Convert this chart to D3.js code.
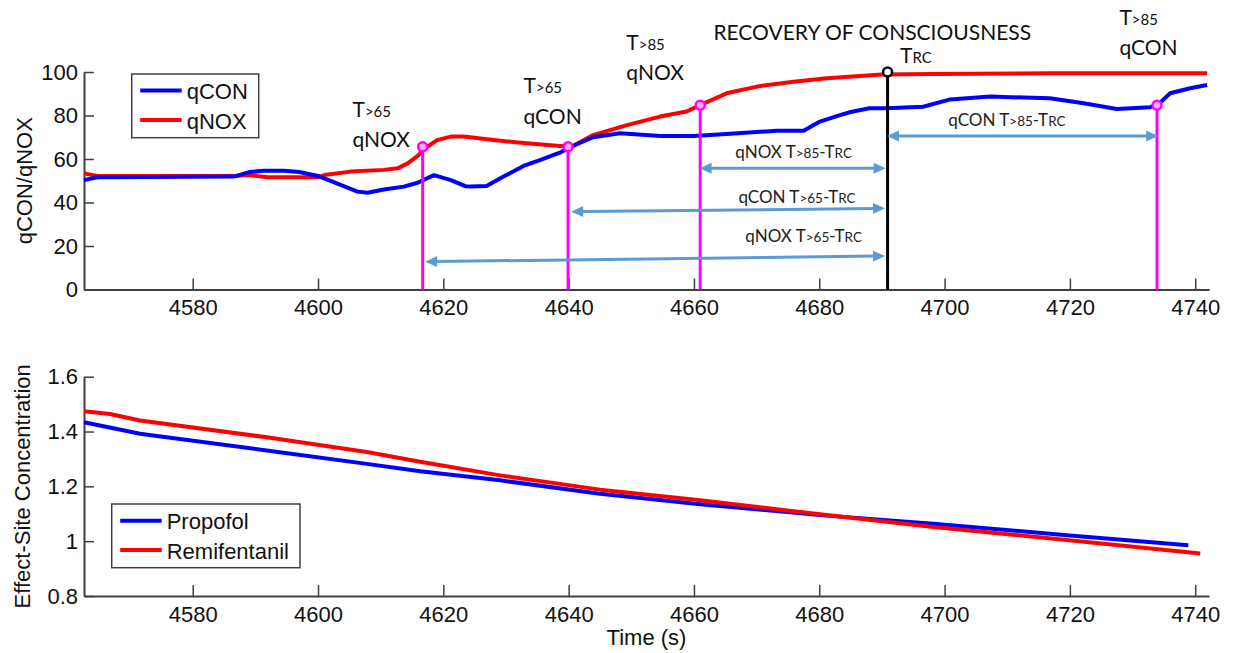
<!DOCTYPE html>
<html><head><meta charset="utf-8">
<script src="https://cdn.jsdelivr.net/npm/d3@7"></script>
<style>body{margin:0;background:#fff;} svg{display:block;}</style>
</head><body>
<svg id="c" width="1237" height="653"></svg>
<script>
// ---------- data ----------
const xTicks = [4580, 4600, 4620, 4640, 4660, 4680, 4700, 4720, 4740];
const qTicks = [0, 20, 40, 60, 80, 100];
const cTicks = [0.8, 1, 1.2, 1.4, 1.6];

const qconT = [4562.65,4564.8,4586.6,4589,4591.4,4594.6,4597,4600,4603,4606.3,4607.9,4610.5,4613.7,4615.9,4618.5,4621.2,4623.5,4624.3,4626.9,4629.6,4632.8,4635.4,4638.6,4640.2,4643.9,4648.2,4654.6,4659.9,4665.2,4673.2,4677.5,4680.1,4683.3,4685,4688,4690.7,4696.6,4700.9,4707.3,4716.8,4722.2,4727.5,4732.8,4734.1,4736,4739.2,4741.9];
const qconV = [50.3,51.6,51.9,54.0,54.6,54.6,54.0,52.2,48.8,45.0,44.5,46.0,47.3,49.1,52.6,50.3,47.5,47.3,47.6,51.9,56.8,59.5,62.9,65.4,70.0,71.8,70.6,70.6,71.5,73.0,73.0,77.2,80.2,81.6,83.3,83.3,84.0,87.4,88.7,87.9,85.6,83.0,83.8,85.1,90.2,92.5,94.0];

const qnoxT = [4562.65,4564.8,4586.6,4589,4592,4600,4601,4605.2,4610.5,4612.7,4614.3,4615.9,4616.9,4619,4621.2,4623.3,4628,4633.3,4638.6,4640.7,4643.9,4649.3,4654.6,4658.8,4661,4665.2,4670.6,4675.9,4681.2,4686.5,4690,4697.9,4716.8,4741.9];
const qnoxV = [53.4,52.2,52.2,52.6,51.6,51.6,52.6,54.2,55.0,55.7,58.0,61.4,64.5,68.7,70.3,70.3,68.7,67.2,66.0,66.0,71.0,75.6,79.5,81.8,84.8,90.2,93.6,95.5,97.1,98.2,98.8,99.1,99.4,99.4];

const propT = [4562.65,4571.6,4591.8,4607.8,4616.3,4629.05,4645.0,4661.0,4680.1,4698.2,4719.5,4738.9];
const propV = [1.434,1.392,1.331,1.282,1.255,1.222,1.173,1.135,1.095,1.064,1.022,0.985];
const remiT = [4562.65,4566.8,4571.6,4591.8,4607.8,4616.3,4629.05,4645.0,4661.0,4680.1,4698.2,4719.5,4740.8];
const remiV = [1.474,1.464,1.44,1.379,1.325,1.29,1.24,1.188,1.149,1.098,1.052,1.004,0.955];

// threshold events (magenta) and recovery of consciousness (black)
const eventT = [4616.7, 4639.9, 4661.0, 4733.9];
const eventV = [65.6, 65.6, 84.7, 84.7];
const trcT = 4690.9, trcV = 100;

// arrows: start/end time and value, label
const arrowT1 = [4660.9, 4640.4, 4617.1, 4690.8];
const arrowV1 = [55.7, 35.8, 12.8, 70.6];
const arrowT2 = [4690.6, 4690.5, 4690.5, 4734.1];
const arrowV2 = [55.7, 37.3, 15.4, 70.6];
const arrowLab = [["qNOX T",">85","-T","RC"],["qCON T",">65","-T","RC"],["qNOX T",">65","-T","RC"],["qCON T",">85","-T","RC"]];
const arrowLabT = [4666.6, 4667.1, 4668.2, 4700.6];
const arrowLabV = [60.3, 39.9, 22.0, 75.3];

// event labels: [big, small] line1, line2
const evLab1 = [">65", ">65", ">85", ">85"];
const evLab2 = ["qNOX", "qCON", "qNOX", "qCON"];
const evLabT = [4605.5, 4632.8, 4649.2, 4727.9];
const evLabV1 = [79.2, 90.3, 110.1, 121.6];
const evLabV2 = [65.4, 76.1, 96.3, 107.8];

// ---------- layout ----------
const svg = d3.select("#c");
const X0 = 84, X1 = 1209;
const x = d3.scaleLinear().domain([4562.65, 4742.2]).range([X0, X1]);
const yq = d3.scaleLinear().domain([0, 100]).range([289.5, 72]);
const yc = d3.scaleLinear().domain([0.8, 1.6]).range([596, 376.7]);
const AX = "Liberation Sans, Arial, sans-serif";
const AN = "Lato, sans-serif";

function styleAxis(g) {
  g.select(".domain").attr("stroke", "#404040").attr("stroke-width", 2);
  g.selectAll(".tick line").attr("stroke", "#404040").attr("stroke-width", 1.5);
  g.selectAll(".tick text").attr("fill", "#111").style("font-family", AX).style("font-size", "22px");
}

// axes top
svg.append("g").attr("transform", `translate(0,${yq(0)})`)
  .call(d3.axisBottom(x).tickValues(xTicks).tickSizeInner(-11).tickSizeOuter(0).tickPadding(10).tickFormat(d3.format("d")))
  .call(styleAxis);
svg.append("g").attr("transform", `translate(${X0},0)`)
  .call(d3.axisLeft(yq).tickValues(qTicks).tickSizeInner(-10).tickSizeOuter(0).tickPadding(6).tickFormat(d3.format("d")))
  .call(styleAxis);
// axes bottom
svg.append("g").attr("transform", `translate(0,${yc(0.8)})`)
  .call(d3.axisBottom(x).tickValues(xTicks).tickSizeInner(-11).tickSizeOuter(0).tickPadding(10).tickFormat(d3.format("d")))
  .call(styleAxis);
svg.append("g").attr("transform", `translate(${X0},0)`)
  .call(d3.axisLeft(yc).tickValues(cTicks).tickSizeInner(-10).tickSizeOuter(0).tickPadding(6).tickFormat(d => String(d)))
  .call(styleAxis);

// axis titles
svg.append("text").attr("transform", `translate(32,${(yq(0)+yq(100))/2}) rotate(-90)`)
  .attr("text-anchor", "middle").style("font-family", AX).style("font-size", "22px").attr("fill", "#111").text("qCON/qNOX");
svg.append("text").attr("transform", `translate(29.5,${(yc(0.8)+yc(1.6))/2}) rotate(-90)`)
  .attr("text-anchor", "middle").style("font-family", AX).style("font-size", "22px").attr("fill", "#111").text("Effect-Site Concentration");
svg.append("text").attr("x", (X0+X1)/2).attr("y", 645).attr("text-anchor", "middle")
  .style("font-family", AX).style("font-size", "22px").attr("fill", "#111").text("Time (s)");

// lines
const lineQ = d3.line().x(d => x(d[0])).y(d => yq(d[1]));
const lineC = d3.line().x(d => x(d[0])).y(d => yc(d[1]));
const zip = (a, b) => a.map((v, i) => [v, b[i]]);
svg.append("path").attr("d", lineQ(zip(qnoxT, qnoxV))).attr("fill", "none").attr("stroke", "#ff0000").attr("stroke-width", 4).attr("stroke-linejoin", "round");
svg.append("path").attr("d", lineQ(zip(qconT, qconV))).attr("fill", "none").attr("stroke", "#0000ff").attr("stroke-width", 4).attr("stroke-linejoin", "round");
svg.append("path").attr("d", lineC(zip(propT, propV))).attr("fill", "none").attr("stroke", "#0000ff").attr("stroke-width", 4).attr("stroke-linejoin", "round");
svg.append("path").attr("d", lineC(zip(remiT, remiV))).attr("fill", "none").attr("stroke", "#ff0000").attr("stroke-width", 4).attr("stroke-linejoin", "round");

// vertical event lines
eventT.forEach((t, i) => {
  svg.append("line").attr("x1", x(t)).attr("x2", x(t)).attr("y1", yq(eventV[i])).attr("y2", yq(0))
    .attr("stroke", "#ff00ff").attr("stroke-width", 3);
});
svg.append("line").attr("x1", x(trcT)).attr("x2", x(trcT)).attr("y1", yq(trcV)).attr("y2", yq(0))
  .attr("stroke", "#000").attr("stroke-width", 3);
eventT.forEach((t, i) => {
  svg.append("circle").attr("cx", x(t)).attr("cy", yq(eventV[i])).attr("r", 4.5)
    .attr("fill", "#ffaaff").attr("stroke", "#ff00ff").attr("stroke-width", 2.5);
});
svg.append("circle").attr("cx", x(trcT)).attr("cy", yq(trcV)).attr("r", 4.5)
  .attr("fill", "#fff").attr("stroke", "#000").attr("stroke-width", 2.5);

// arrows
const AC = "#5b9bd5", HL = 12, HW = 5.5;
arrowT1.forEach((t1, i) => {
  const ax = x(t1), ay = yq(arrowV1[i]), bx = x(arrowT2[i]), by = yq(arrowV2[i]);
  const L = Math.hypot(bx-ax, by-ay), ux = (bx-ax)/L, uy = (by-ay)/L, nx = -uy, ny = ux;
  svg.append("line").attr("x1", ax+ux*HL*0.8).attr("y1", ay+uy*HL*0.8).attr("x2", bx-ux*HL*0.8).attr("y2", by-uy*HL*0.8)
    .attr("stroke", AC).attr("stroke-width", 3);
  const head = (px, py, dx, dy) => `M${px},${py}L${px-dx*HL+nx*HW},${py-dy*HL+ny*HW}L${px-dx*HL-nx*HW},${py-dy*HL-ny*HW}Z`;
  svg.append("path").attr("d", head(bx, by, ux, uy)).attr("fill", AC);
  svg.append("path").attr("d", head(ax, ay, -ux, -uy)).attr("fill", AC);
  const tx = svg.append("text").attr("x", x(arrowLabT[i])).attr("y", yq(arrowLabV[i]))
    .style("font-family", AN).style("font-size", "17px").attr("fill", "#222");
  const p = arrowLab[i];
  tx.append("tspan").text(p[0]);
  tx.append("tspan").style("font-size", "13.5px").text(p[1]);
  tx.append("tspan").text(p[2]);
  tx.append("tspan").style("font-size", "13.5px").text(p[3]);
});

// event labels
evLabT.forEach((t, i) => {
  const t1 = svg.append("text").attr("x", x(t)).attr("y", yq(evLabV1[i]))
    .style("font-family", AN).style("font-size", "21px").attr("fill", "#111");
  t1.append("tspan").text("T");
  t1.append("tspan").style("font-size", "15px").text(evLab1[i]);
  svg.append("text").attr("x", x(t)).attr("y", yq(evLabV2[i]))
    .style("font-family", AN).style("font-size", "21px").attr("fill", "#111").text(evLab2[i]);
});
svg.append("text").attr("x", x(4663.1)).attr("y", yq(114.7))
  .style("font-family", AN).style("font-size", "21px").attr("fill", "#111").text("RECOVERY OF CONSCIOUSNESS");
const trcLab = svg.append("text").attr("x", x(4692.9)).attr("y", yq(104.1))
  .style("font-family", AN).style("font-size", "21px").attr("fill", "#111");
trcLab.append("tspan").text("T");
trcLab.append("tspan").style("font-size", "15px").text("RC");

// legends
function legend(bx, by, bw, bh, items) {
  svg.append("rect").attr("x", bx).attr("y", by).attr("width", bw).attr("height", bh)
    .attr("fill", "#fff").attr("stroke", "#404040").attr("stroke-width", 1.5);
  items.forEach(it => {
    svg.append("line").attr("x1", bx+8.5).attr("x2", bx+50).attr("y1", it.y).attr("y2", it.y)
      .attr("stroke", it.c).attr("stroke-width", 4);
    svg.append("text").attr("x", bx+55).attr("y", it.y+8.5).style("font-family", AX).style("font-size", "22px")
      .attr("fill", "#111").text(it.t);
  });
}
legend(131.7, 74, 127, 63.7, [{t:"qCON", c:"#0000ff", y:90.5}, {t:"qNOX", c:"#ff0000", y:120}]);
legend(111.7, 504, 188.3, 63.7, [{t:"Propofol", c:"#0000ff", y:520.7}, {t:"Remifentanil", c:"#ff0000", y:550}]);
</script>
</body></html>
